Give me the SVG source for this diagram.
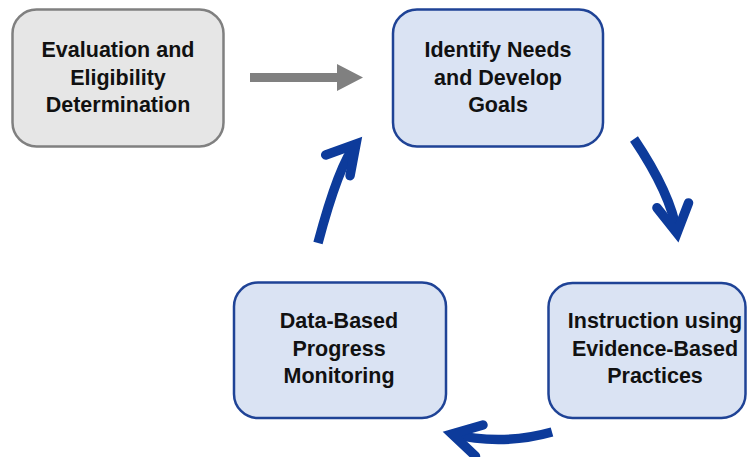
<svg xmlns="http://www.w3.org/2000/svg" width="747" height="457" viewBox="0 0 747 457">
  <defs>
    <style>
      .box { fill: #dae3f3; stroke: #1f4396; stroke-width: 2.5; }
      .grey { fill: #e6e6e6; stroke: #808080; stroke-width: 2.5; }
      .lbl { font-family: "Liberation Sans", Arial, sans-serif; font-weight: bold; font-size: 21.5px; fill: #111111; text-anchor: middle; }
      .flow { fill: none; stroke: #0d3b9b; stroke-width: 9.5; stroke-linecap: butt; }
    </style>
    <marker id="head" markerUnits="userSpaceOnUse" viewBox="-40 -30 50 60" markerWidth="50" markerHeight="60" refX="0" refY="0" orient="auto" overflow="visible">
      <path d="M-28,-16 L0,0 L-28,16" fill="none" stroke="#0d3b9b" stroke-width="9.5" stroke-linejoin="miter" stroke-miterlimit="10" stroke-linecap="round"/>
    </marker>
  </defs>
  <rect width="747" height="457" fill="#ffffff"/>

  <g id="connectors">
    <polygon id="grey-arrow" points="250,73 337,73 337,64 363,77.5 337,91 337,82 250,82" fill="#808080"/>
    <path id="arrow-goals-instruction" class="flow" d="M634,139 Q671,194 677,233" marker-end="url(#head)"/>
    <path id="arrow-instruction-monitoring" class="flow" d="M552,432 Q502,446 452,434" marker-end="url(#head)"/>
    <path id="arrow-monitoring-goals" class="flow" d="M318,243 Q339,164 356,144" marker-end="url(#head)"/>
  </g>

  <g id="node-evaluation">
    <rect class="grey" x="12.5" y="9.5" width="211" height="137" rx="24"/>
    <text class="lbl" x="118" y="57">Evaluation and</text>
    <text class="lbl" x="118" y="84.5">Eligibility</text>
    <text class="lbl" x="118" y="112">Determination</text>
  </g>

  <g id="node-goals">
    <rect class="box" x="393" y="9.5" width="210" height="137" rx="24"/>
    <text class="lbl" x="498" y="57">Identify Needs</text>
    <text class="lbl" x="498" y="84.5">and Develop</text>
    <text class="lbl" x="498" y="112">Goals</text>
  </g>

  <g id="node-instruction">
    <rect class="box" x="548.5" y="283" width="197" height="135" rx="24"/>
    <text class="lbl" x="655" y="328">Instruction using</text>
    <text class="lbl" x="655" y="355.5">Evidence-Based</text>
    <text class="lbl" x="655" y="383">Practices</text>
  </g>

  <g id="node-monitoring">
    <rect class="box" x="234" y="282.5" width="212" height="135.5" rx="24"/>
    <text class="lbl" x="339" y="328">Data-Based</text>
    <text class="lbl" x="339" y="355.5">Progress</text>
    <text class="lbl" x="339" y="383">Monitoring</text>
  </g>
</svg>
